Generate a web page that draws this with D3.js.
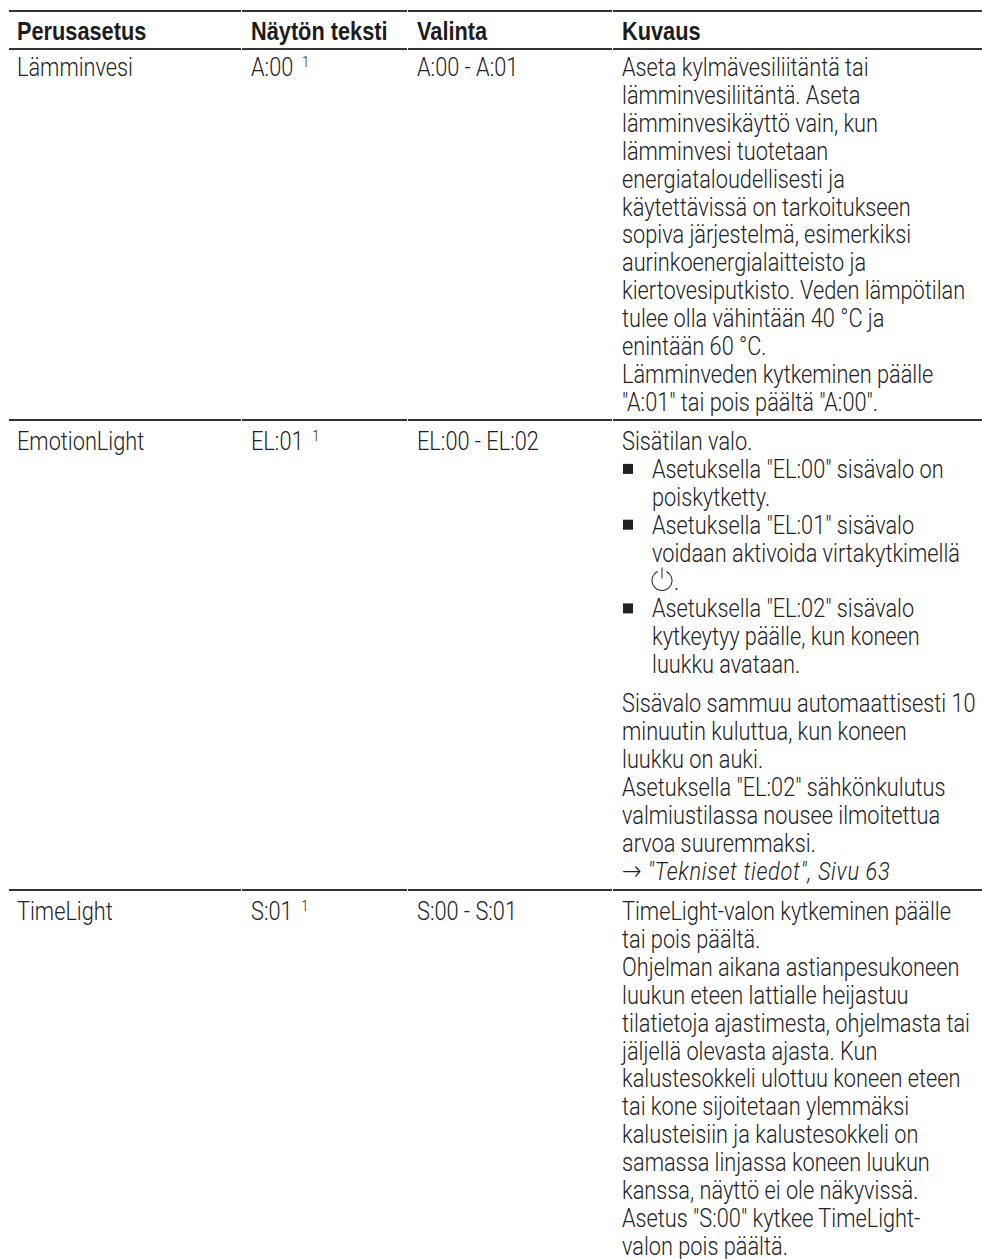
<!DOCTYPE html>
<html>
<head>
<meta charset="utf-8">
<script src="https://cdn.jsdelivr.net/npm/d3@7"></script>
<style>
html, body { margin: 0; padding: 0; background: #fff; }
svg { display: block; }
text { font-family: Roboto, sans-serif; font-weight: 300; font-size: 25px; fill: #222; white-space: pre; }
text.head { font-family: "Liberation Sans", sans-serif; font-weight: bold; font-size: 25px; fill: #1c1c1c; }
</style>
</head>
<body>
<div id="chart"></div>
<script>
const columns = ["Perusasetus", "Näytön teksti", "Valinta", "Kuvaus"];
const settings = ["Lämminvesi", "EmotionLight", "TimeLight"];
const displayTexts = ["A:00", "EL:01", "S:01"];
const choices = ["A:00 - A:01", "EL:00 - EL:02", "S:00 - S:01"];
const footnote = "1";

// one array of [kind, text] per table row
// p = plain, b = bullet, c = bullet continuation, r = reference in italics, s = power symbol line
const row1Lines = [
    ["p", "Aseta kylmävesiliitäntä tai"],
    ["p", "lämminvesiliitäntä. Aseta"],
    ["p", "lämminvesikäyttö vain, kun"],
    ["p", "lämminvesi tuotetaan"],
    ["p", "energiataloudellisesti ja"],
    ["p", "käytettävissä on tarkoitukseen"],
    ["p", "sopiva järjestelmä, esimerkiksi"],
    ["p", "aurinkoenergialaitteisto ja"],
    ["p", "kiertovesiputkisto. Veden lämpötilan"],
    ["p", "tulee olla vähintään 40 °C ja"],
    ["p", "enintään 60 °C."],
    ["p", "Lämminveden kytkeminen päälle"],
    ["p", "\"A:01\" tai pois päältä \"A:00\"."]
];
const row2Lines = [
    ["p", "Sisätilan valo."],
    ["b", "Asetuksella \"EL:00\" sisävalo on"],
    ["c", "poiskytketty."],
    ["b", "Asetuksella \"EL:01\" sisävalo"],
    ["c", "voidaan aktivoida virtakytkimellä"],
    ["s", "."],
    ["b", "Asetuksella \"EL:02\" sisävalo"],
    ["c", "kytkeytyy päälle, kun koneen"],
    ["c", "luukku avataan."],
    ["p", "Sisävalo sammuu automaattisesti 10"],
    ["p", "minuutin kuluttua, kun koneen"],
    ["p", "luukku on auki."],
    ["p", "Asetuksella \"EL:02\" sähkönkulutus"],
    ["p", "valmiustilassa nousee ilmoitettua"],
    ["p", "arvoa suuremmaksi."],
    ["r", "\"Tekniset tiedot\", Sivu 63"]
];
const row3Lines = [
    ["p", "TimeLight-valon kytkeminen päälle"],
    ["p", "tai pois päältä."],
    ["p", "Ohjelman aikana astianpesukoneen"],
    ["p", "luukun eteen lattialle heijastuu"],
    ["p", "tilatietoja ajastimesta, ohjelmasta tai"],
    ["p", "jäljellä olevasta ajasta. Kun"],
    ["p", "kalustesokkeli ulottuu koneen eteen"],
    ["p", "tai kone sijoitetaan ylemmäksi"],
    ["p", "kalusteisiin ja kalustesokkeli on"],
    ["p", "samassa linjassa koneen luukun"],
    ["p", "kanssa, näyttö ei ole näkyvissä."],
    ["p", "Asetus \"S:00\" kytkee TimeLight-"],
    ["p", "valon pois päältä."]
];
const rowLines = [row1Lines, row2Lines, row3Lines];

const width = 982, height = 1259;
const colX = [17, 251, 417, 622];
const ruleEdges = [9, 242, 408, 613, 983];
const ruleY = [11, 49, 420, 890];
const firstBaseline = [76, 450, 920];
const lineH = 27.9;
const gapAfter = 8;   // row 2 has a paragraph gap after this line
const gapExtra = 11;
const narrow = 0.87;
const narrowHead = 0.87;

const svg = d3.select("#chart").append("svg")
    .attr("width", width)
    .attr("height", height);

const place = (x, y, k) => `translate(${x},${y}) scale(${k},1)`;

// rules, broken in small pieces at the column edges
const segments = d3.pairs(ruleEdges);
const rules = svg.append("g").selectAll("g")
    .data(ruleY)
    .enter().append("g")
    .attr("transform", d => `translate(0,${d})`);
rules.selectAll("line")
    .data(segments)
    .enter().append("line")
    .attr("x1", d => d[0])
    .attr("x2", d => d[1] - 1)
    .attr("stroke", "#333")
    .attr("stroke-width", 2);

// header
svg.selectAll("text.head")
    .data(columns)
    .enter().append("text")
    .attr("class", "head")
    .attr("transform", (d, i) => place(colX[i], 40, narrowHead))
    .text(d => d);

// first three columns
settings.forEach((name, r) => {
    const y = firstBaseline[r];
    svg.append("text").attr("transform", place(colX[0], y, narrow)).text(name);
    const shown = svg.append("text").attr("transform", place(colX[1], y, narrow));
    shown.append("tspan").text(displayTexts[r] + " ");
    shown.append("tspan").attr("dx", 4).attr("dy", -9).style("font-size", "15px").text(footnote);
    svg.append("text").attr("transform", place(colX[2], y, narrow)).text(choices[r]);
});

// description column
rowLines.forEach((lines, r) => {
    const lineY = (i) => firstBaseline[r] + i * lineH + (r === 1 && i > gapAfter ? gapExtra : 0);
    const g = svg.append("g");

    g.selectAll("text")
        .data(lines)
        .enter().append("text")
        .attr("transform", (d, i) => {
            const x = d[0] === "b" || d[0] === "c" ? colX[3] + 30 : d[0] === "s" ? colX[3] + 52 : colX[3];
            return place(x, lineY(i), narrow);
        })
        .each(function(d) {
            const t = d3.select(this);
            if (d[0] === "r") {
                t.append("tspan").style("font-family", "'DejaVu Sans'").style("font-size", "27px").text("→");
                t.append("tspan").attr("dx", 7).style("font-style", "italic").style("letter-spacing", "0.8px").text(d[1]);
            } else {
                t.text(d[1]);
            }
        });

    g.selectAll("rect")
        .data(lines.map((d, i) => [d, i]).filter(d => d[0][0] === "b"))
        .enter().append("rect")
        .attr("x", colX[3] + 1)
        .attr("y", d => lineY(d[1]) - 14)
        .attr("width", 10)
        .attr("height", 10)
        .attr("fill", "#222");

    // power symbol
    lines.forEach((d, i) => {
        if (d[0] !== "s") return;
        const cx = colX[3] + 40, cy = lineY(i) - 9;
        const arc = d3.arc().innerRadius(9.5).outerRadius(10.5)
            .startAngle(0.45).endAngle(2 * Math.PI - 0.45);
        g.append("path").attr("d", arc()).attr("transform", `translate(${cx},${cy})`).attr("fill", "#222");
        g.append("line").attr("x1", cx).attr("x2", cx).attr("y1", cy - 13).attr("y2", cy - 2)
            .attr("stroke", "#222").attr("stroke-width", 1);
    });
});
</script>
</body>
</html>
